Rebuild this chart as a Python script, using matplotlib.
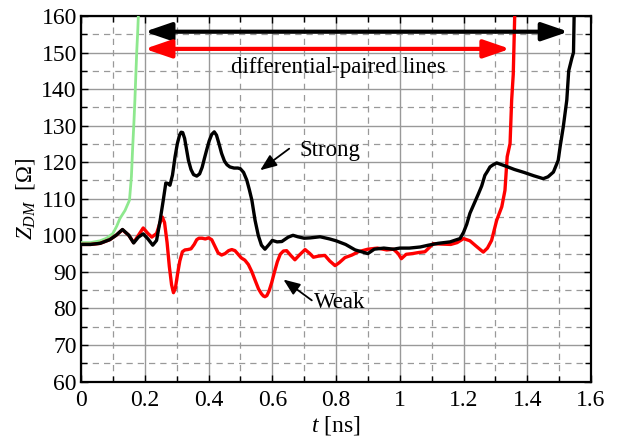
import matplotlib
matplotlib.use("Agg")
import matplotlib.pyplot as plt
from matplotlib.ticker import MultipleLocator

plt.rcParams['font.family'] = ['Liberation Serif', 'DejaVu Serif']
plt.rcParams['mathtext.fontset'] = 'custom'
plt.rcParams['mathtext.rm'] = 'Liberation Serif'
plt.rcParams['mathtext.it'] = 'Liberation Serif:italic'

# ---------------- data ----------------
strong_t = [0, 0.03, 0.06, 0.09, 0.11, 0.13, 0.15, 0.165, 0.18, 0.195,
            0.21, 0.225, 0.237, 0.248, 0.258, 0.266, 0.272, 0.279, 0.287, 0.295,
            0.302, 0.309, 0.314, 0.319, 0.325, 0.331, 0.337, 0.345, 0.353, 0.363,
            0.372, 0.38, 0.387, 0.394, 0.402, 0.41, 0.418, 0.425, 0.433, 0.441,
            0.45, 0.458, 0.467, 0.48, 0.492, 0.50, 0.51, 0.52, 0.528, 0.536,
            0.546, 0.556, 0.566, 0.577, 0.59, 0.60, 0.615, 0.63, 0.65, 0.665,
            0.68, 0.70, 0.72, 0.75, 0.78, 0.80, 0.83, 0.86, 0.88, 0.90,
            0.92, 0.95, 0.98, 1.00, 1.03, 1.064, 1.09, 1.12, 1.158, 1.175,
            1.189, 1.20, 1.21, 1.22, 1.23, 1.24, 1.247, 1.257, 1.267, 1.275,
            1.283, 1.293, 1.304, 1.33, 1.36, 1.39, 1.42, 1.45, 1.465, 1.482,
            1.497, 1.503, 1.513, 1.524, 1.53, 1.54, 1.545, 1.548]
strong_z = [97.5, 97.5, 97.8, 98.8, 100.0, 101.6, 100.0, 97.9, 99.5, 100.4,
            99.0, 97.3, 98.6, 104.0, 109.6, 114.3, 114.2, 113.7, 116.5, 121.5,
            125.0, 127.4, 128.2, 128.1, 126.5, 123.5, 120.5, 118.0, 116.6, 116.2,
            116.8, 118.6, 121.0, 123.3, 125.8, 127.6, 128.3, 127.4, 125.0, 122.4,
            120.3, 119.3, 118.7, 118.4, 118.4, 118.2, 117.2, 115.1, 112.5, 109.6,
            104.1, 100.0, 97.3, 96.2, 97.5, 98.6, 98.2, 98.3, 99.5, 100.0,
            99.6, 99.2, 99.3, 99.6, 99.0, 98.5, 97.5, 96.0, 95.5, 95.0,
            96.2, 96.5, 96.2, 96.5, 96.5, 96.8, 97.3, 97.8, 98.2, 98.7,
            99.1, 100.8, 103.0, 106.0, 108.0, 110.0, 111.4, 113.5, 116.4, 117.5,
            118.7, 119.3, 119.8, 119.0, 118.0, 117.2, 116.3, 115.5, 116.0, 117.3,
            120.5, 124.2, 129.7, 137.0, 145.0, 148.5, 150.0, 165.0]

weak_t = [0, 0.03, 0.06, 0.09, 0.11, 0.13, 0.15, 0.165, 0.18, 0.195,
          0.21, 0.222, 0.237, 0.248, 0.255, 0.262, 0.27, 0.277, 0.284, 0.29,
          0.296, 0.303, 0.31, 0.318, 0.326, 0.335, 0.345, 0.355, 0.363, 0.37,
          0.38, 0.39, 0.40, 0.41, 0.42, 0.43, 0.441, 0.452, 0.463, 0.473,
          0.483, 0.493, 0.503, 0.514, 0.525, 0.536, 0.547, 0.557, 0.566, 0.572,
          0.577, 0.583, 0.59, 0.598, 0.607, 0.616, 0.625, 0.635, 0.645, 0.658,
          0.671, 0.685, 0.703, 0.718, 0.729, 0.745, 0.765, 0.78, 0.797, 0.81,
          0.828, 0.85, 0.87, 0.90, 0.93, 0.959, 0.98, 0.995, 1.005, 1.02,
          1.04, 1.06, 1.079, 1.105, 1.13, 1.16, 1.18, 1.20, 1.22, 1.24,
          1.262, 1.275, 1.288, 1.304, 1.32, 1.33, 1.337, 1.346, 1.351, 1.356,
          1.362]
weak_z = [97.5, 97.5, 97.8, 98.8, 100.0, 101.5, 100.0, 98.0, 100.0, 102.0,
          100.5, 99.5, 100.5, 103.5, 105.0, 103.5, 98.0, 91.5, 86.5, 84.3,
          85.5, 89.5, 93.0, 95.5, 96.0, 96.1, 96.3, 97.5, 98.8, 99.2,
          99.2, 99.0, 99.3, 98.8, 97.0, 95.2, 94.6, 95.0, 95.8, 96.1,
          95.8, 94.8, 93.8, 93.2, 92.0, 90.0, 87.5, 85.3, 84.0, 83.4,
          83.2, 83.5, 84.8, 87.0, 90.0, 92.8, 94.8, 95.7, 95.8, 94.5,
          93.3, 94.6, 96.1, 95.0, 94.0, 94.3, 94.5, 93.0, 91.7, 92.5,
          93.9, 94.6, 95.5, 96.2, 96.5, 96.0, 96.2, 95.0, 93.6, 94.8,
          95.0, 95.3, 95.5, 97.7, 97.6, 97.5, 98.0, 99.1, 98.5, 97.0,
          95.4, 96.5, 98.6, 104.1, 107.8, 112.3, 121.5, 125.1, 137.0, 144.0,
          165.0]

ref_t = [0, 0.03, 0.06, 0.08, 0.10, 0.112, 0.122, 0.138, 0.152, 0.158,
         0.162, 0.166, 0.169, 0.172, 0.175, 0.178, 0.182]
ref_z = [98.0, 98.0, 98.5, 99.2, 100.5, 102.5, 104.6, 106.8, 109.6, 116.0,
         124.0, 131.0, 137.0, 144.0, 150.7, 156.0, 165.0]

xticks = [0, 0.2, 0.4, 0.6, 0.8, 1.0, 1.2, 1.4, 1.6]
xticklabels = ['0', '0.2', '0.4', '0.6', '0.8', '1', '1.2', '1.4', '1.6']
yticks = [60, 70, 80, 90, 100, 110, 120, 130, 140, 150, 160]

# ---------------- figure ----------------
fig = plt.figure(figsize=(6.19, 4.37), dpi=100)
ax = fig.add_axes([0.1309, 0.127, 0.8239, 0.8364])

ax.set_xlim(0, 1.6)
ax.set_ylim(60, 160)
ax.set_xticks(xticks)
ax.set_xticklabels(xticklabels)
ax.set_yticks(yticks)
ax.xaxis.set_minor_locator(MultipleLocator(0.1))
ax.yaxis.set_minor_locator(MultipleLocator(5))

ax.grid(which='major', color='#999999', linestyle='-', linewidth=1.0, zorder=0)
ax.grid(which='minor', color='#999999', linestyle=(0, (5, 4)), linewidth=0.9, zorder=0)
ax.set_axisbelow(True)

ax.tick_params(which='both', direction='in', top=True, right=True,
               labelsize=17, width=1.0, colors='black')
ax.tick_params(axis='x', which='both', pad=6)
ax.tick_params(axis='y', which='both', pad=3)
ax.tick_params(which='major', length=5)
ax.tick_params(which='minor', length=4)
for s in ax.spines.values():
    s.set_linewidth(1.6)

ax.plot(ref_t, ref_z, color='#8ee88e', lw=2.0, zorder=3)
ax.plot(weak_t, weak_z, color='#ff0000', lw=2.4, zorder=4)
ax.plot(strong_t, strong_z, color='black', lw=2.4, zorder=5)

# span arrows
ax.annotate('', xy=(1.529, 155.7), xytext=(0.2, 155.7),
            arrowprops=dict(arrowstyle='<|-|>,head_length=1.6,head_width=0.55',
                            mutation_scale=10, lw=3, color='black',
                            shrinkA=0, shrinkB=0), zorder=6)
ax.annotate('', xy=(1.346, 151.0), xytext=(0.2, 151.0),
            arrowprops=dict(arrowstyle='<|-|>,head_length=1.6,head_width=0.55',
                            mutation_scale=10, lw=3, color='#ff0000',
                            shrinkA=0, shrinkB=0), zorder=6)
ax.text(0.806, 145.8, 'differential-paired lines', fontsize=16.5,
        ha='center', va='center', zorder=7)

# labels
ax.annotate('', xy=(0.562, 117.8), xytext=(0.653, 123.7),
            arrowprops=dict(arrowstyle='-|>,head_length=1.0,head_width=0.4',
                            mutation_scale=10, lw=1.3, color='black',
                            shrinkA=0, shrinkB=0), zorder=7)
ax.text(0.685, 123.3, 'Strong', fontsize=16.5, ha='left', va='center', zorder=7)
ax.annotate('', xy=(0.635, 87.9), xytext=(0.724, 82.2),
            arrowprops=dict(arrowstyle='-|>,head_length=1.0,head_width=0.4',
                            mutation_scale=10, lw=1.3, color='black',
                            shrinkA=0, shrinkB=0), zorder=7)
ax.text(0.732, 81.7, 'Weak', fontsize=16.5, ha='left', va='center', zorder=7)

ax.set_xlabel(r'$t$ [ns]', fontsize=17, labelpad=2)
ax.set_ylabel(r'$Z_{DM}$  [$\Omega$]', fontsize=16.5, labelpad=3)

fig.savefig('out.png', dpi=100)
